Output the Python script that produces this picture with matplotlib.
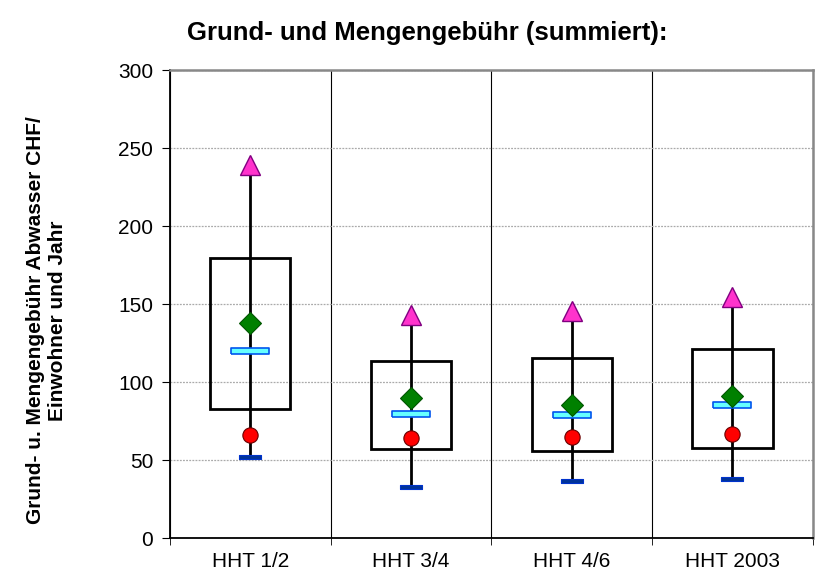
import matplotlib
matplotlib.use("Agg")
import matplotlib.pyplot as plt
import numpy as np

plt.rcParams["font.family"] = ["Liberation Sans", "DejaVu Sans"]

categories = ["HHT 1/2", "HHT 3/4", "HHT 4/6", "HHT 2003"]
minimum = [52, 33, 36.5, 38]
p10 = [66, 64, 65, 66.5]
q1 = [83, 57, 56, 58]
median = [120, 79.5, 79, 85]
mean = [138, 89.5, 85.5, 91]
q3 = [179.5, 113.5, 115.5, 121]
maximum = [239, 143, 145.5, 154.5]

fig = plt.figure(figsize=(8.21, 5.72), dpi=100)
ax = fig.add_axes([0.207, 0.0594, 0.783, 0.8182])

x = np.arange(len(categories))
box_w = 0.5

# boxes from q1 to q3
for xi, lo, hi in zip(x, q1, q3):
    ax.add_patch(plt.Rectangle((xi - box_w / 2, lo), box_w, hi - lo,
                               fill=False, edgecolor="black", linewidth=2, zorder=3))

# whisker line min -> max
ax.vlines(x, minimum, maximum, colors="black", linewidth=2, zorder=4)

bar_min = [(-1, -0.2), (1, -0.2), (1, 0.2), (-1, 0.2), (-1, -0.2)]
bar_med = [(-1, -0.18), (1, -0.18), (1, 0.18), (-1, 0.18), (-1, -0.18)]

ax.plot(x, minimum, linestyle="none", marker=bar_min, markersize=16,
        markerfacecolor="#003399", markeredgecolor="#0033cc", markeredgewidth=0.8, zorder=5)
ax.plot(x, median, linestyle="none", marker=bar_med, markersize=27,
        markerfacecolor="#66ffff", markeredgecolor="#0055ee", markeredgewidth=1.2, zorder=5)
ax.plot(x, p10, linestyle="none", marker="o", markersize=11,
        markerfacecolor="#ff0000", markeredgecolor="#660000", markeredgewidth=0.8, zorder=6)
ax.plot(x, mean, linestyle="none", marker="D", markersize=11,
        markerfacecolor="#008000", markeredgecolor="#005500", markeredgewidth=0.8, zorder=6)
ax.plot(x, maximum, linestyle="none", marker="^", markersize=15,
        markerfacecolor="#ff33cc", markeredgecolor="#800080", markeredgewidth=1.0, zorder=6)

ax.set_xlim(-0.5, len(categories) - 0.5)
ax.set_ylim(0, 300)
ax.set_yticks(np.arange(0, 301, 50))
ax.set_xticks(x)
ax.set_xticklabels(categories)
ax.set_xticks(np.arange(-0.5, len(categories), 1), minor=True)
ax.tick_params(axis="x", which="major", length=0, labelsize=15, pad=10)
ax.tick_params(axis="x", which="minor", length=5, direction="out")
ax.tick_params(axis="y", labelsize=15, length=6, direction="out", pad=6)

ax.grid(axis="y", color="#aaaaaa", linestyle=(0, (1.5, 1)), linewidth=0.9)
ax.grid(axis="x", which="minor", color="black", linewidth=0.8)
ax.set_axisbelow(True)
ax.spines["top"].set_color("#888888")
ax.spines["right"].set_color("#888888")
ax.spines["top"].set_linewidth(1.8)
ax.spines["right"].set_linewidth(1.8)
ax.spines["left"].set_linewidth(1.3)
ax.spines["bottom"].set_linewidth(1.3)

ax.set_ylabel("Grund- u. Mengengebühr Abwasser CHF/\nEinwohner und Jahr",
              fontsize=15, fontweight="bold", linespacing=1.2)
ax.yaxis.set_label_coords(-0.16, 0.465)
fig.text(0.521, 0.942, "Grund- und Mengengebühr (summiert):",
         ha="center", va="center", fontsize=18.5, fontweight="bold")

fig.savefig("out.png", dpi=100)
